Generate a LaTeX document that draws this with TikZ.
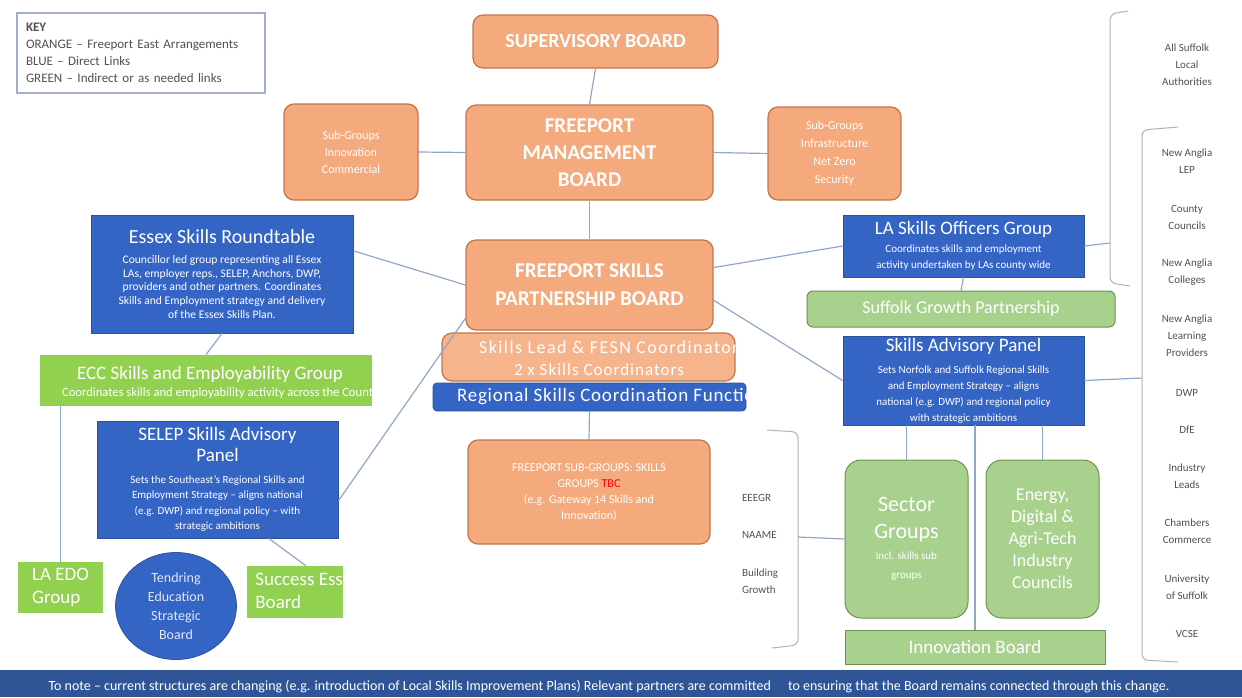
\documentclass[tikz,border=0pt]{standalone}
\usepackage{fontspec}
\setmainfont{Carlito}
\usetikzlibrary{shapes.geometric}

\definecolor{fporange}{HTML}{F4AA7C}
\definecolor{fporangeline}{HTML}{C27548}
\definecolor{fpblue}{HTML}{3464C4}
\definecolor{fpblueline}{HTML}{2B529E}
\definecolor{fpgreen}{HTML}{92D050}
\definecolor{fpsoft}{HTML}{A9D18E}
\definecolor{fpsoftline}{HTML}{6E9152}
\definecolor{fpbar}{HTML}{2F5597}
\definecolor{fplink}{HTML}{8FA7C9}
\definecolor{fptext}{HTML}{505050}
\definecolor{fpkey}{HTML}{A3AFC6}

\newcommand{\fsz}[2]{\fontsize{#1}{#2}\selectfont}

\tikzset{
  wh/.style 2 args={minimum width=#1*0.5pt, minimum height=#2*0.5pt},
  box/.style={inner sep=0pt, align=center, text=white},
  orangebox/.style={box, fill=fporange, draw=fporangeline, line width=0.6pt, rounded corners=5pt},
  bluebox/.style={box, fill=fpblue, draw=fpblueline, line width=0.4pt},
  greenbox/.style={box, fill=fpgreen},
  softbox/.style={box, fill=fpsoft, draw=fpsoftline, line width=0.5pt},
  link/.style={draw=fplink, line width=0.6pt},
  bracket/.style={draw=black!30, line width=0.5pt, rounded corners=3pt},
  side/.style={text=fptext, align=center, font=\fsz{5.5}{8.5}},
}

\begin{document}
\begin{tikzpicture}[x=0.5pt, y=-0.5pt]
  \useasboundingbox (0,0) rectangle (1242,697);

  % key
  \node[draw=fpkey, line width=0.8pt, wh={248}{80}, inner sep=0pt, align=left,
        text width=115pt, text=fptext, font=\fsz{6.5}{8.5}] (key) at (141,53)
    {\textbf{KEY}\\ORANGE -- Freeport East Arrangements\\BLUE -- Direct Links\\GREEN -- Indirect or as needed links};

  % freeport boards
  \node[orangebox, wh={245}{53}, font=\bfseries\fsz{10}{12}] (sup) at (595.5,41.5) {SUPERVISORY BOARD};
  \node[orangebox, wh={247}{95}, font=\bfseries\fsz{10.5}{13.5}] (fmb) at (589.5,152.5) {FREEPORT\\MANAGEMENT\\BOARD};
  \node[orangebox, wh={134}{96}, font=\fsz{6}{8.5}] (subl) at (351,152) {Sub-Groups\\Innovation\\Commercial};
  \node[orangebox, wh={133}{93}, font=\fsz{6}{9}] (subr) at (834.5,153.5) {Sub-Groups\\Infrastructure\\Net Zero\\Security};
  \node[orangebox, wh={247}{90}, font=\bfseries\fsz{10.5}{14}] (fspb) at (589.5,285) {FREEPORT SKILLS\\PARTNERSHIP BOARD};

  \node[orangebox, fill=fporange!88!white, wh={293}{48}] (lead) at (588.5,357) {};
  \begin{scope}
    \clip (lead.south west) rectangle (lead.north east);
    \node[anchor=west, text=white, font=\fsz{9}{10}\addfontfeature{LetterSpace=8}] (leadtxt) at (472,347) {Skills Lead \& FESN Coordinator};
  \end{scope}
  \node[text=white, font=\fsz{8.5}{10}\addfontfeature{LetterSpace=6}] (leadsub) at (599,370) {2 x Skills Coordinators};

  \node[bluebox, rounded corners=2pt, wh={313}{28}] (rscf) at (589.5,397) {};
  \begin{scope}
    \clip (rscf.south west) rectangle (rscf.north east);
    \node[anchor=west, text=white, font=\fsz{9.5}{10}\addfontfeature{LetterSpace=4}] (rscftxt) at (450,397) {Regional Skills Coordination Function};
  \end{scope}

  \node[orangebox, wh={242}{104}, font=\fsz{6}{8}] (fsub) at (589,492)
    {FREEPORT SUB-GROUPS: SKILLS\\GROUPS \textcolor{red}{TBC}\\(e.g. Gateway 14 Skills and\\Innovation)};

  % essex side
  \node[bluebox, wh={262}{118}, font=\fsz{5.8}{6.9}] (esr) at (222,274)
    {\fsz{10}{12}Essex Skills Roundtable\\[3pt]
     Councillor led group representing all Essex\\LAs, employer reps., SELEP, Anchors, DWP,\\providers and other partners. Coordinates\\Skills and Employment strategy and delivery\\of the Essex Skills Plan.};

  \node[greenbox, wh={332}{51}] (ecc) at (206,380.5) {};
  \node[text=white, font=\fsz{9.5}{10}] (ecctxt) at (210,374) {ECC Skills and Employability Group};
  \begin{scope}
    \clip (ecc.south west) rectangle (ecc.north east);
    \node[anchor=west, text=white, font=\fsz{6.3}{6.3}] (eccsub) at (55,393) {Coordinates skills and employability activity across the County};
  \end{scope}

  \node[bluebox, wh={241}{117}, font=\fsz{5.5}{7.7}] (selep) at (217.5,479.5)
    {\fsz{9.5}{10}SELEP Skills Advisory\\[1.5pt]\fsz{9.5}{10}Panel\\[3pt]
     Sets the Southeast's Regional Skills and\\Employment Strategy -- aligns national\\(e.g. DWP) and regional policy -- with\\strategic ambitions};

  \node[greenbox, wh={85}{51}, align=left, font=\fsz{9.5}{11.5}] (laedo) at (60.5,587.5) {LA EDO\\Group};
  \node[ellipse, fill=fpblue, draw=fpblueline, wh={121}{107}, inner sep=0pt, align=center,
        text=white!85!fpblue, font=\fsz{7}{9.5}] (tend) at (176,606) {Tendring\\Education\\Strategic\\Board};
  \node[greenbox, wh={96}{52}] (succ) at (295,592) {};
  \begin{scope}
    \clip (succ.south west) rectangle (succ.north east);
    \node[anchor=north west, align=left, text=white, font=\fsz{9.5}{11.5}, inner sep=0pt] (succtxt) at (255,573) {Success Essex\\Board};
  \end{scope}

  % suffolk side
  \node[bluebox, wh={241}{62}, font=\fsz{5.5}{8}] (laso) at (963.5,246)
    {\fsz{9.5}{10}LA Skills Officers Group\\[1pt]
     Coordinates skills and employment\\activity undertaken by LAs county wide};
  \node[softbox, rounded corners=3pt, wh={308}{36}, font=\fsz{9}{10}] (sgp) at (961,309) {Suffolk Growth Partnership};
  \node[bluebox, wh={241}{89}, font=\fsz{5.5}{8}] (sap) at (963.5,380.5)
    {\fsz{9.5}{10}Skills Advisory Panel\\[3pt]
     Sets Norfolk and Suffolk Regional Skills\\and Employment Strategy -- aligns\\national (e.g. DWP) and regional policy\\with strategic ambitions};
  \node[softbox, rounded corners=8pt, wh={123}{158}, font=\fsz{5.5}{9.5}] (sector) at (906.5,539)
    {\fsz{11}{14.5}Sector\\[4pt]\fsz{11}{14.5}Groups\\[1pt]incl. skills sub\\groups};
  \node[softbox, rounded corners=8pt, wh={113}{158}, font=\fsz{9}{11}] (energy) at (1042.5,539)
    {Energy,\\Digital \&\\Agri-Tech\\Industry\\Councils};
  \node[softbox, wh={260}{34}, font=\fsz{9.5}{10}] (innov) at (975,647) {Innovation Board};

  \node[side, anchor=west] (eeegr) at (735,498) {EEEGR};
  \node[side, anchor=west] (naame) at (735,535) {NAAME};
  \node[side, anchor=west, align=left] (bgrowth) at (735,581) {Building\\Growth};

  % partner list
  \foreach \y/\t [count=\i] in {65/{All Suffolk\\Local\\Authorities}, 161/{New Anglia\\LEP},
      217/{County\\Councils}, 272/{New Anglia\\Colleges}, 336/{New Anglia\\Learning\\Providers},
      393/{DWP}, 430/{DfE}, 476/{Industry\\Leads}, 531/{Chambers\\Commerce},
      587/{University\\of Suffolk}, 634/{VCSE}}
    \node[side] (rc\i) at (1187,\y) {\t};

  % brackets
  \draw[bracket] (1128,11) -- (1110,14) -- (1110,283) -- (1130,286);
  \coordinate (b1) at (1110,243);
  \draw[bracket] (1178,127) -- (1142,130) -- (1142,660) -- (1178,662);
  \coordinate (b2) at (1142,378);
  \draw[bracket] (767,430) -- (798,432) -- (798,645) -- (772,648);
  \coordinate (b3) at (798,537);

  % connectors
  \draw[link] (sup.south) -- (fmb.north);
  \draw[link] (subl.east) -- (fmb.west);
  \draw[link] (fmb.east) -- (subr.west);
  \draw[link] (fmb.south) -- (fspb.north);
  \draw[link] (esr.10) -- (fspb.west);
  \draw[link] (esr.south) -- (ecc.north);
  \draw[link] (fspb.195) -- (selep.-10);
  \draw[link] (ecc.south -| laedo.north) -- (laedo.north);
  \draw[link] (selep.-49) -- (succ.68);
  \draw[link] (rscf.south) -- (fsub.north);
  \draw[link] (fspb.8) -- (laso.west);
  \draw[link] (laso.east) -- (b1);
  \draw[link] (laso.south) -- (sgp.north);
  \draw[link] (fspb.-7) -- (sap.west);
  \draw[link] (sap.east) -- (b2);
  \draw[link] (sap.south -| sector.north) -- (sector.north);
  \draw[link] (sap.south -| innov.north) -- (innov.north);
  \draw[link] (sap.south -| energy.north) -- (energy.north);
  \draw[link] (b3) -- (sector.west);

  % note bar
  \node[fill=fpbar, wh={1242}{27}, inner sep=0pt] (bar) at (621,683.5) {};
  \node[text=white, font=\fsz{7}{8}] (bartxt) at (609,687)
    {To note -- current structures are changing (e.g. introduction of Local Skills Improvement Plans) Relevant partners are committed\quad\ to ensuring that the Board remains connected through this change.};
\end{tikzpicture}
\end{document}
